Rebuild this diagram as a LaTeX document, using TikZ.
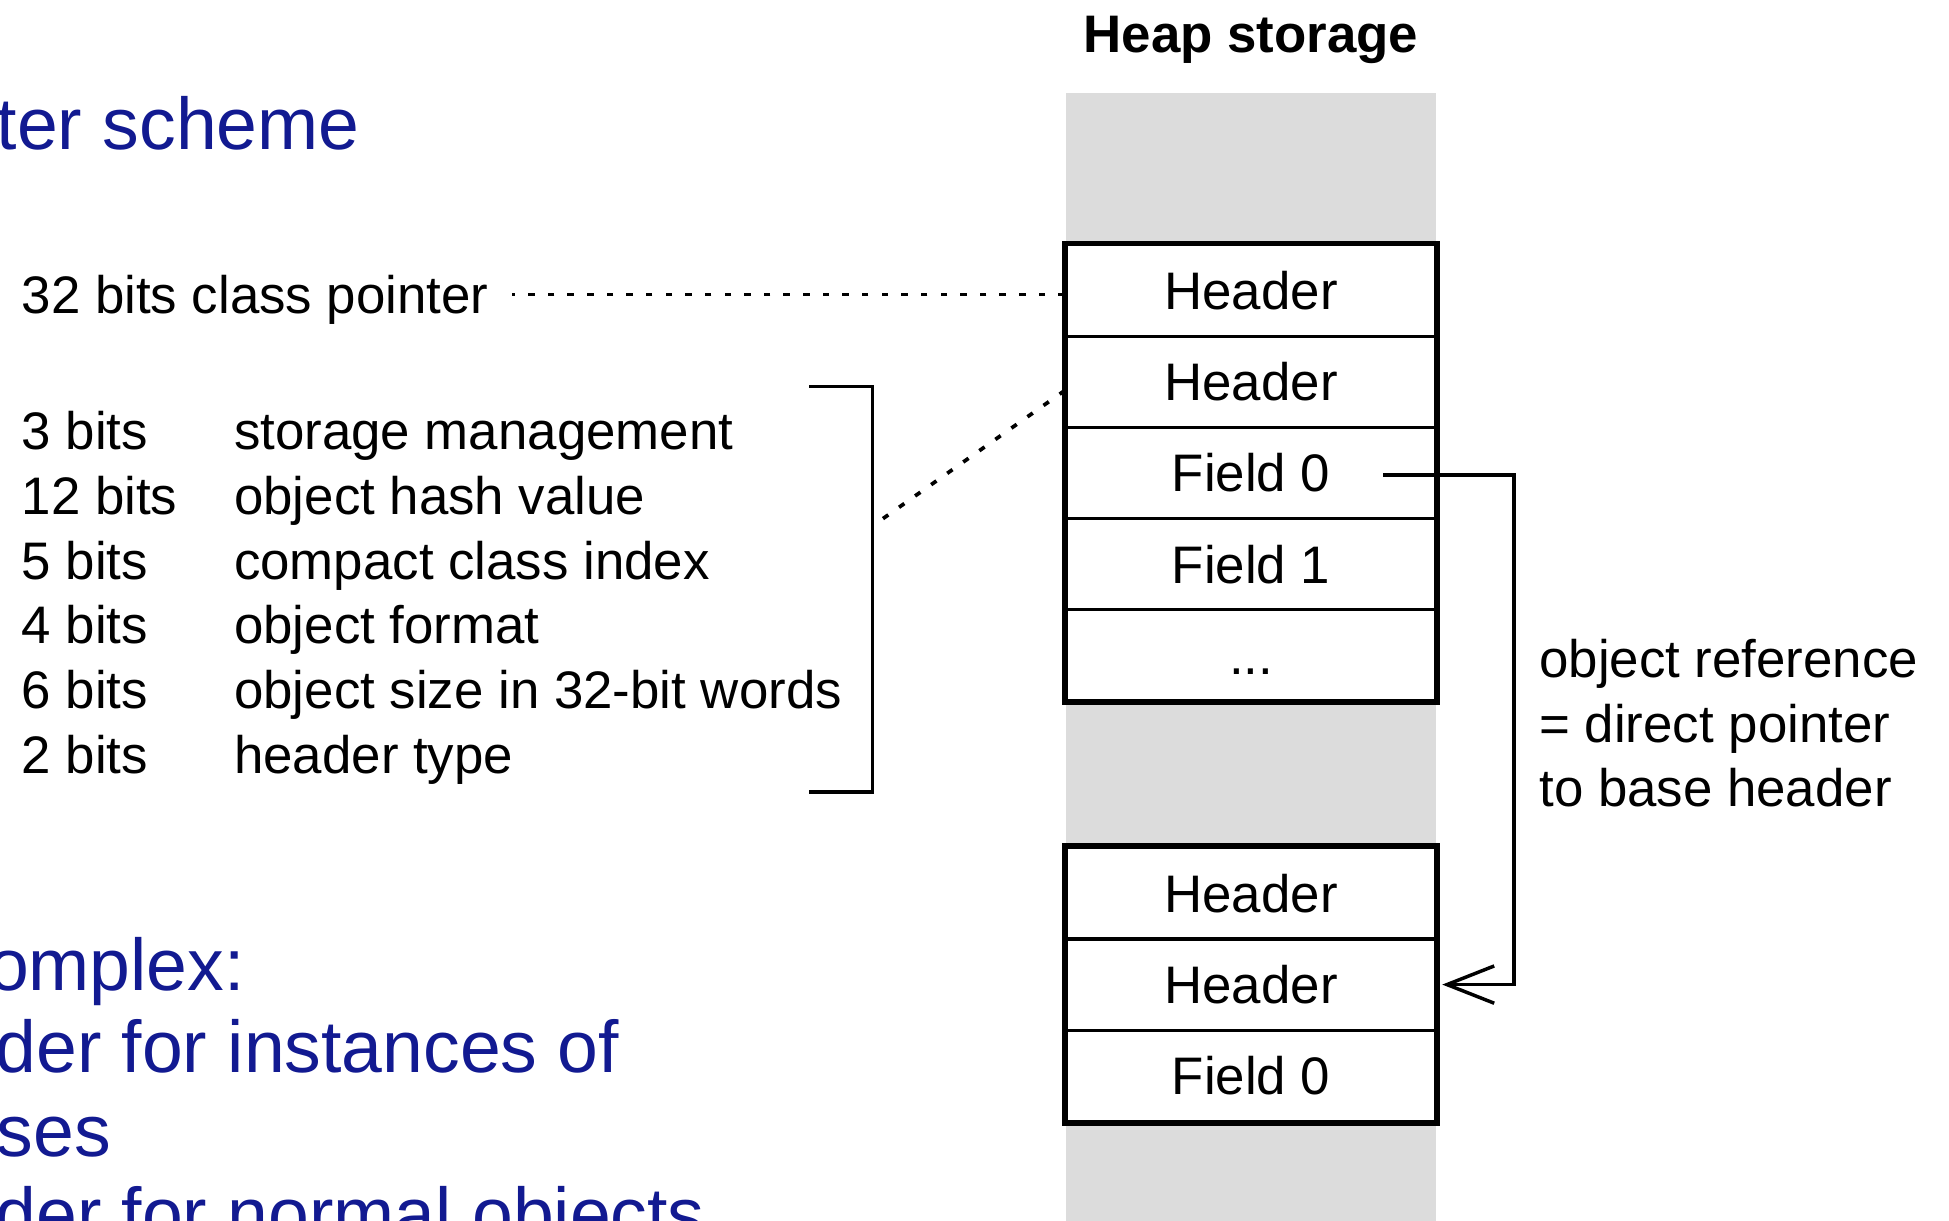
\documentclass[tikz,border=0pt]{standalone}
\usepackage{fontspec}
\setmainfont{Liberation Sans}
\usetikzlibrary{arrows.meta,calc}
\definecolor{heapgray}{RGB}{220,220,220}
\definecolor{slideblue}{RGB}{18,26,145}
\begin{document}
\begin{tikzpicture}[x=0.5pt,y=-0.5pt,
  lbl/.style={font=\fontsize{21.25}{26}\selectfont, inner sep=0pt},
  cell/.style={draw, line width=1.3pt, fill=white, minimum width=148.5pt,
    minimum height=36.7pt, inner sep=0pt, text height=15.3pt, text depth=0pt,
    font=\fontsize{21.25}{26}\selectfont},
  frame/.style={line width=2.2pt},
  dotline/.style={line width=1.5pt, dash pattern=on 2.6pt off 5.3pt},
  conn/.style={line width=1.4pt},
  slide/.style={font=\fontsize{29.5}{36}\selectfont, text=slideblue,
    inner sep=0pt, anchor=base west}]
\useasboundingbox (0,0) rectangle (1568,982);

% heap column
\fill[heapgray] (858,75) rectangle (1155,990);
\node[lbl, anchor=base, font=\fontsize{21.25}{26}\selectfont\bfseries] (title) at (1006.5,42) {Heap storage};

% first object
\node[cell] (h1) at (1006.5,233.7) {Header};
\node[cell] (h2) at (1006.5,307.1) {Header};
\node[cell] (f0) at (1006.5,380.5) {Field 0};
\node[cell] (f1) at (1006.5,453.9) {Field 1};
\node[cell] (dots) at (1006.5,527.3) {...};
\draw[frame] (h1.north west) rectangle (dots.south east);

% second object
\node[cell] (g1) at (1006.5,718.7) {Header};
\node[cell] (g2) at (1006.5,792.1) {Header};
\node[cell] (g3) at (1006.5,865.5) {Field 0};
\draw[frame] (g1.north west) rectangle (g3.south east);

% class pointer word
\node[lbl, anchor=base west] (cp) at (17,252) {32 bits class pointer};
\coordinate (cpend) at (412,237);
\draw[dotline] (cpend -| h1.west) -- (cpend);

% base header bit fields
\node[lbl, anchor=base west] (b1) at (17,362) {3 bits};
\node[lbl, anchor=base west] (d1) at (188,362) {storage management};
\node[lbl, anchor=base west] (b2) at (17,414) {12 bits};
\node[lbl, anchor=base west] (d2) at (188,414) {object hash value};
\node[lbl, anchor=base west] (b3) at (17,466) {5 bits};
\node[lbl, anchor=base west] (d3) at (188,466) {compact class index};
\node[lbl, anchor=base west] (b4) at (17,518) {4 bits};
\node[lbl, anchor=base west] (d4) at (188,518) {object format};
\node[lbl, anchor=base west] (b5) at (17,570) {6 bits};
\node[lbl, anchor=base west] (d5) at (188,570) {object size in 32-bit words};
\node[lbl, anchor=base west] (b6) at (17,622) {2 bits};
\node[lbl, anchor=base west] (d6) at (188,622) {header type};

% bracket grouping the bit fields
\coordinate (brtop) at (651,311);
\coordinate (brbot) at (651,637);
\coordinate (brmid) at (705,421);
\draw[conn] (brtop) -- ++(51,0) |- (brbot);
\draw[dotline] ([yshift=-3.5pt]h2.west) -- (brmid);

% object reference
\coordinate (ptr) at (1113,382);
\coordinate (bend) at (1218,382);
\draw[conn, -{Straight Barb[length=19pt,width=15pt,line width=1.4pt]}] (ptr) -- (bend) |- ([xshift=2pt]g2.east);
\node[lbl, anchor=base west, align=left] (ref) at (1238,649)
  {object reference\\= direct pointer\\to base header};

% slide text
\node[slide] (s1) at (-3,120) {ter scheme};
\node[slide] (s2) at (-10,797) {omplex:};
\node[slide] (s3) at (-4,863) {der for instances of};
\node[slide] (s4) at (-3,930) {ses};
\node[slide] (s5) at (-4,997) {der for normal objects};
\end{tikzpicture}
\end{document}
